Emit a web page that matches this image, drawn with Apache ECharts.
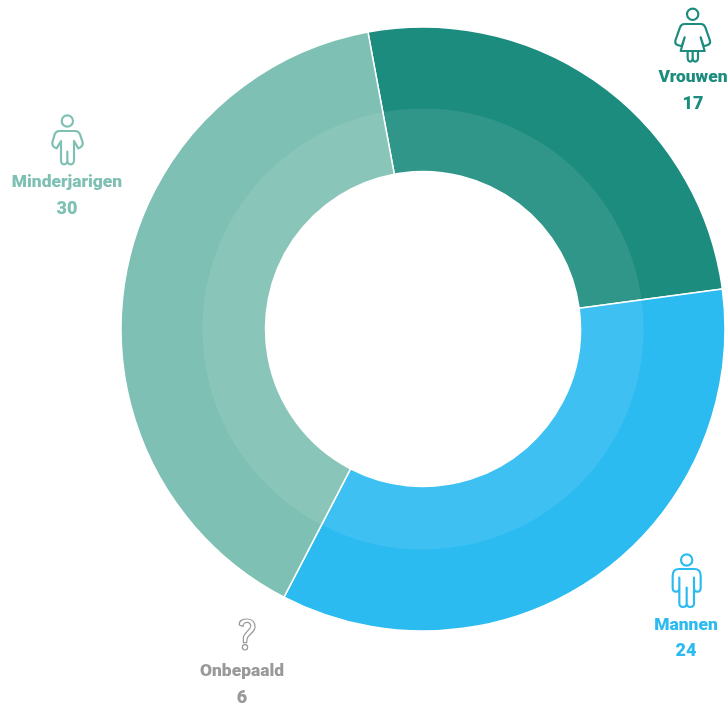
<!DOCTYPE html>
<html><head><meta charset="utf-8">
<style>html,body{margin:0;padding:0;background:#fff}#c{width:728px;height:706px}</style>
<script src="https://cdn.jsdelivr.net/npm/echarts@6/dist/echarts.min.js"></script>
</head><body><div id="c"></div>
<script>
var categories = ['Vrouwen','Mannen','Minderjarigen','Onbepaald'];
var counts = [17,24,30,6];
var arcShares = [92.9,125,142.1,0];
var colors = ['#1C8C7E','#2BBBF1','#7FC0B4','#999999'];

var chart = echarts.init(document.getElementById('c'),null,{renderer:'canvas'});
var C=[423,329];
function pieData(extra){
  return categories.map(function(n,i){
    return {name:n,value:arcShares[i],itemStyle:extra(i)};
  }).filter(function(d){return d.value>0;});
}
var icons = [
 {cat:0,off:[640,0],head:[158,43,17],d:'M133 72 L183 72 Q192 72 196 82 L210 122 Q212 132 203 135 L191 139 L182 112 L194 153 L122 153 L134 112 L125 139 L113 135 Q104 132 106 122 L120 82 Q124 72 133 72 M143 153 L143 172 Q143 185 151 185 Q158 185 158 172 L158 153 M158 172 Q158 185 166 185 Q174 185 174 172 L174 153'},
 {cat:2,off:[0,105],head:[202,48,17],d:'M177 78 L227 78 Q235 78 240 88 L248 112 Q250 122 240 128 L235 130 L222 108 L222 165 Q222 178 212 178 Q202 178 202 165 L202 140 L202 165 Q202 178 192 178 Q183 178 183 165 L183 108 L170 130 L165 128 Q155 122 157 112 L164 88 Q168 78 177 78'},
 {cat:1,off:[640,545],head:[140,45,17],d:'M117 72 L163 72 Q182 72 182 92 L182 128 Q182 140 172 140 Q162 140 162 128 L162 98 L162 175 Q162 186 151 186 Q140 186 140 175 L140 128 L140 175 Q140 186 129 186 Q118 186 118 175 L118 98 L118 128 Q118 140 108 140 Q98 140 98 128 L98 92 Q98 72 117 72'}
];
var questionPath='M148 45 C146 30 160 27 172 27 C188 27 196 38 195 52 C194 66 178 72 172 84 L170 98 L160 98 L160 82 C163 68 180 60 182 50 C183 42 178 37 171 37 C164 37 160 41 159 49 Z M165 104 C170 104 173 108 173 112 C173 117 170 120 165 120 C160 120 157 117 157 112 C157 108 160 104 165 104 Z';
icons.forEach(function(ic,i){
  echarts.graphic.registerShape('icon'+i, echarts.graphic.extendPath(ic.d,{}));
});
echarts.graphic.registerShape('iconQ', echarts.graphic.extendPath(questionPath,{}));
var graphics=[];
icons.forEach(function(ic,i){
  var col=colors[ic.cat];
  graphics.push({type:'icon'+i,x:ic.off[0],y:ic.off[1],scaleX:1/3,scaleY:1/3,
    style:{fill:'none',stroke:col,lineWidth:6.5,lineJoin:'round',lineCap:'round'},silent:true,z:10});
  graphics.push({type:'circle',x:ic.off[0],y:ic.off[1],scaleX:1/3,scaleY:1/3,shape:{cx:ic.head[0],cy:ic.head[1],r:ic.head[2]},
    style:{fill:'none',stroke:col,lineWidth:6.5},silent:true,z:10});
});
graphics.push({type:'iconQ',x:190,y:610,scaleX:1/3,scaleY:1/3,
  style:{fill:'none',stroke:colors[3],lineWidth:3.6},silent:true,z:10});
var labelPos=[[693,78,104],[686,625.5,651],[67,182.5,209],[242,671.5,698]];
categories.forEach(function(n,i){
  var p=labelPos[i];
  [[n,p[1]],[String(counts[i]),p[2]]].forEach(function(t,j){
    graphics.push({type:'text',x:p[0],y:t[1],silent:true,z:10,
      style:{text:t[0],fill:colors[i],font:'900 '+(j?18:17.4)+'px Roboto',align:'center',verticalAlign:'middle'}});
  });
});
chart.setOption({
  animation:false,
  graphic:graphics,
  series:[
   {type:'pie',center:C,radius:[157.5,302],startAngle:100.5,clockwise:true,label:{show:false},labelLine:{show:false},silent:true,
    itemStyle:{borderColor:'#fff',borderWidth:1.5},
    data:pieData(function(i){return {color:colors[i]};})},
   {type:'pie',center:C,radius:[158,220.5],startAngle:100.5,clockwise:true,label:{show:false},labelLine:{show:false},silent:true,z:3,
    itemStyle:{borderWidth:0},
    data:pieData(function(i){return {color:'rgba(255,255,255,0.09)'};})}
  ]
});
</script></body></html>
